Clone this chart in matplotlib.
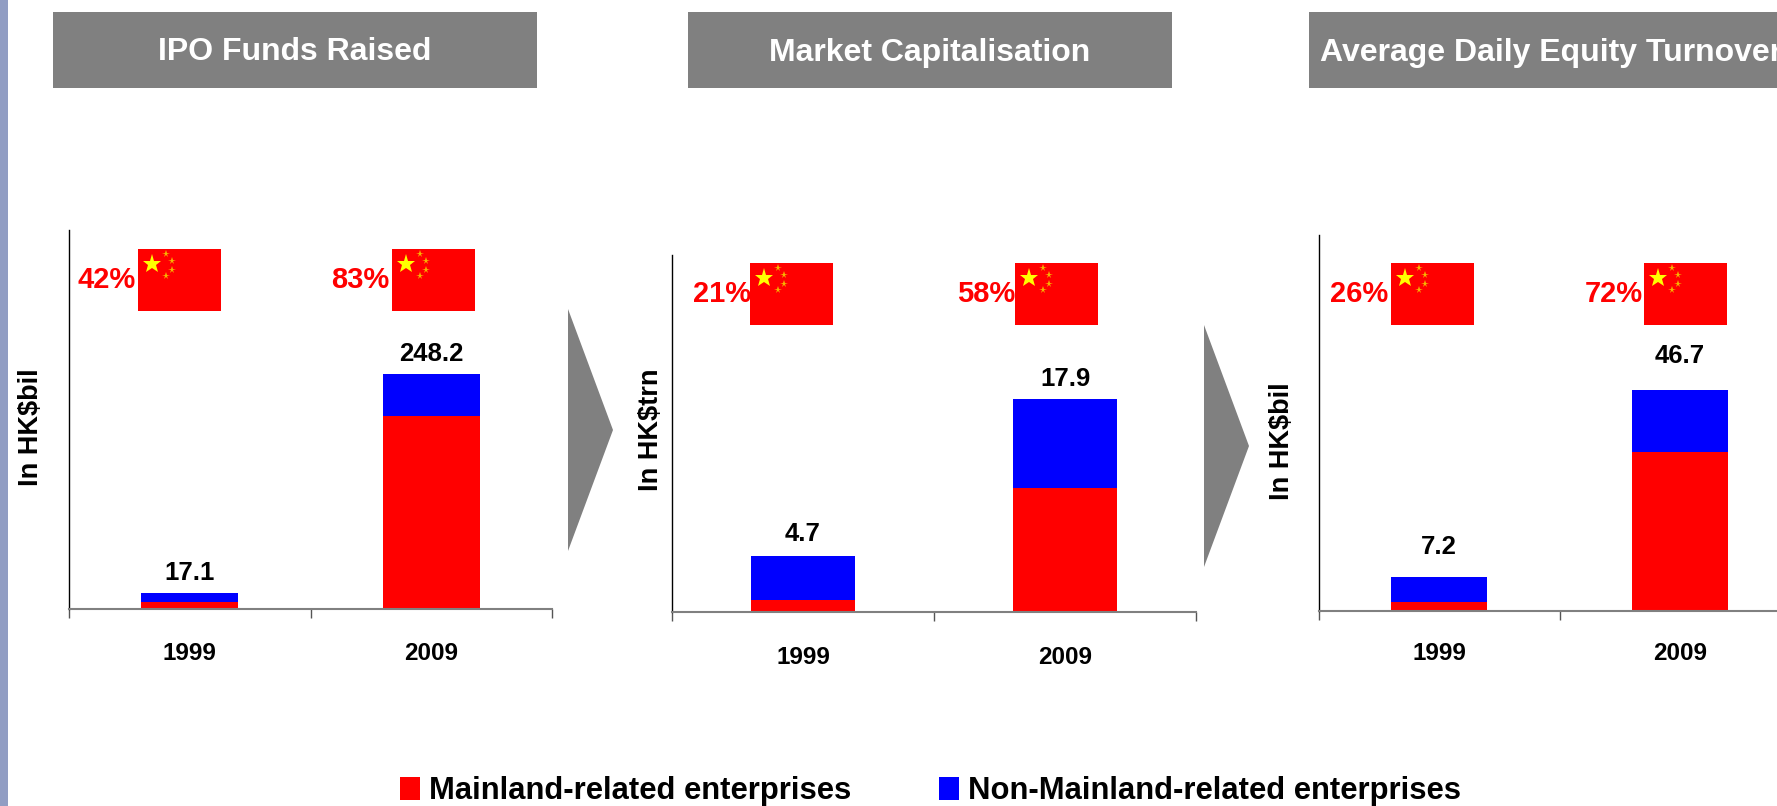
import matplotlib
matplotlib.use('Agg')
import matplotlib.pyplot as plt
from matplotlib.patches import Rectangle, Polygon

plt.rcParams['font.family'] = ['Liberation Sans', 'DejaVu Sans']
plt.rcParams['font.weight'] = 'bold'

W, H = 1777, 806

# Data
years = ['1999', '2009']
titles = ['IPO Funds Raised', 'Market Capitalisation', 'Average Daily Equity Turnover']
units = ['In HK$bil', 'In HK$trn', 'In HK$bil']
mainland_ipo = [7.2, 204.0]
non_mainland_ipo = [9.9, 44.2]
labels_ipo = ['17.1', '248.2']
shares_ipo = ['42%', '83%']
mainland_cap = [1.0, 10.4]
non_mainland_cap = [3.7, 7.5]
labels_cap = ['4.7', '17.9']
shares_cap = ['21%', '58%']
mainland_turn = [1.9, 33.6]
non_mainland_turn = [5.3, 13.1]
labels_turn = ['7.2', '46.7']
shares_turn = ['26%', '72%']

RED = '#ff0000'
BLUE = '#0000ff'
GREY = '#808080'

panels = [
    dict(main=mainland_ipo, non=non_mainland_ipo, labels=labels_ipo, shares=shares_ipo, ymax=400,
         box=(69, 552, 230, 609), head=(53, 537), title_x=295, ylab=(31, 427), flags=(138, 392), flag_y=249,
         year_y=653, gaps=(20, 20), share_dx=(-2, -3)),
    dict(main=mainland_cap, non=non_mainland_cap, labels=labels_cap, shares=shares_cap, ymax=30,
         box=(672, 1196, 255, 612), head=(688, 1172), title_x=930, ylab=(651, 430), flags=(750, 1015), flag_y=263,
         year_y=658, gaps=(22, 20)),
    dict(main=mainland_turn, non=non_mainland_turn, labels=labels_turn, shares=shares_turn, ymax=79.5,
         box=(1319, 1800, 235, 611), head=(1309, 1800), title_x=1551, ylab=(1282, 441), flags=(1391, 1644), flag_y=263,
         year_y=654, gaps=(30, 34)),
]
panels[1]['share_dx'] = (1, 0)
panels[2]['share_dx'] = (-3, -1)

fig = plt.figure(figsize=(W / 100, H / 100), dpi=100, facecolor='white')


def px(x, y):
    return x / W, 1 - y / H


def add_px_axes(x0, x1, y0, y1, **kw):
    return fig.add_axes([x0 / W, 1 - y1 / H, (x1 - x0) / W, (y1 - y0) / H], **kw)


def draw_flag(x0, y0):
    # small Chinese flag, 83 x 62 px
    ax = add_px_axes(x0, x0 + 83, y0, y0 + 62)
    ax.set_xlim(0, 1)
    ax.set_ylim(1, 0)
    ax.set_facecolor(RED)
    ax.set_xticks([])
    ax.set_yticks([])
    for s in ax.spines.values():
        s.set_visible(False)
    ax.plot([0.165], [0.24], marker='*', ms=14, color='#ffff00', mew=0)
    ax.plot([0.335, 0.41, 0.41, 0.335], [0.086, 0.19, 0.34, 0.44], ls='', marker='*', ms=5.5,
            color='#f6b400', mew=0)


def add_box(x0, y0, x1, y1, col):
    fig.add_artist(Rectangle((x0 / W, 1 - y1 / H), (x1 - x0) / W, (y1 - y0) / H, transform=fig.transFigure,
                             facecolor=col, edgecolor='none', lw=0))


# Left strip
add_box(0, 0, 8, H, '#919dc3')

for n, p in enumerate(panels):
    x0, x1, y0, y1 = p['box']
    ax = add_px_axes(x0, x1, y0, y1)
    xs = [0.5, 1.5]
    ax.bar(xs, p['main'], width=0.4, color=RED, lw=0)
    ax.bar(xs, p['non'], width=0.4, bottom=p['main'], color=BLUE, lw=0)
    ax.set_xlim(0, 2)
    ax.set_ylim(0, p['ymax'])
    ax.set_yticks([])
    ax.set_xticks([0, 1, 2])
    ax.set_xticklabels([])
    ax.tick_params(axis='x', length=6.3, width=1, color='#555555')
    ax.spines['top'].set_visible(False)
    ax.spines['right'].set_visible(False)
    ax.spines['left'].set_linewidth(1)
    ax.spines['bottom'].set_color(GREY)
    ax.spines['bottom'].set_linewidth(1.5)

    for i, x in enumerate(xs):
        total = p['main'][i] + p['non'][i]
        ax.annotate(p['labels'][i], (x, total), xytext=(0, p['gaps'][i] * 0.72), textcoords='offset points',
                    ha='center', va='center', fontsize=18.5, fontweight='bold', color='black')
        cx = x0 + (x1 - x0) * x / 2
        fig.text(*px(cx, p['year_y']), years[i], ha='center', va='center', fontsize=17.5, fontweight='bold')

    # Header band
    add_box(p['head'][0], 12, p['head'][1], 88, GREY)
    fig.text(*px(p['title_x'], 52.5), titles[n], ha='center', va='center', fontsize=23,
             fontweight='bold', color='white')

    fig.text(*px(*p['ylab']), units[n], rotation=90, ha='center', va='center', fontsize=19.5,
             fontweight='bold')

    for i, fx in enumerate(p['flags']):
        draw_flag(fx, p['flag_y'])
        fig.text(*px(fx + p['share_dx'][i], p['flag_y'] + 31), p['shares'][i], ha='right', va='center', fontsize=21,
                 fontweight='bold', color=RED)

# Arrows between panels
for ax0, ytop in [(568, 309), (1204, 325)]:
    fig.add_artist(Polygon([px(ax0, ytop), px(ax0 + 45, ytop + 121), px(ax0, ytop + 242)],
                           closed=True, transform=fig.transFigure, facecolor=GREY, edgecolor='none', lw=0))

# Legend
for lx, col, txt in [(400, RED, 'Mainland-related enterprises'), (939, BLUE, 'Non-Mainland-related enterprises')]:
    add_box(lx, 777, lx + 20, 800, col)
    fig.text(*px(lx + 29, 791), txt, ha='left', va='center', fontsize=22.3, fontweight='bold')

fig.savefig('out.png', dpi=100)
